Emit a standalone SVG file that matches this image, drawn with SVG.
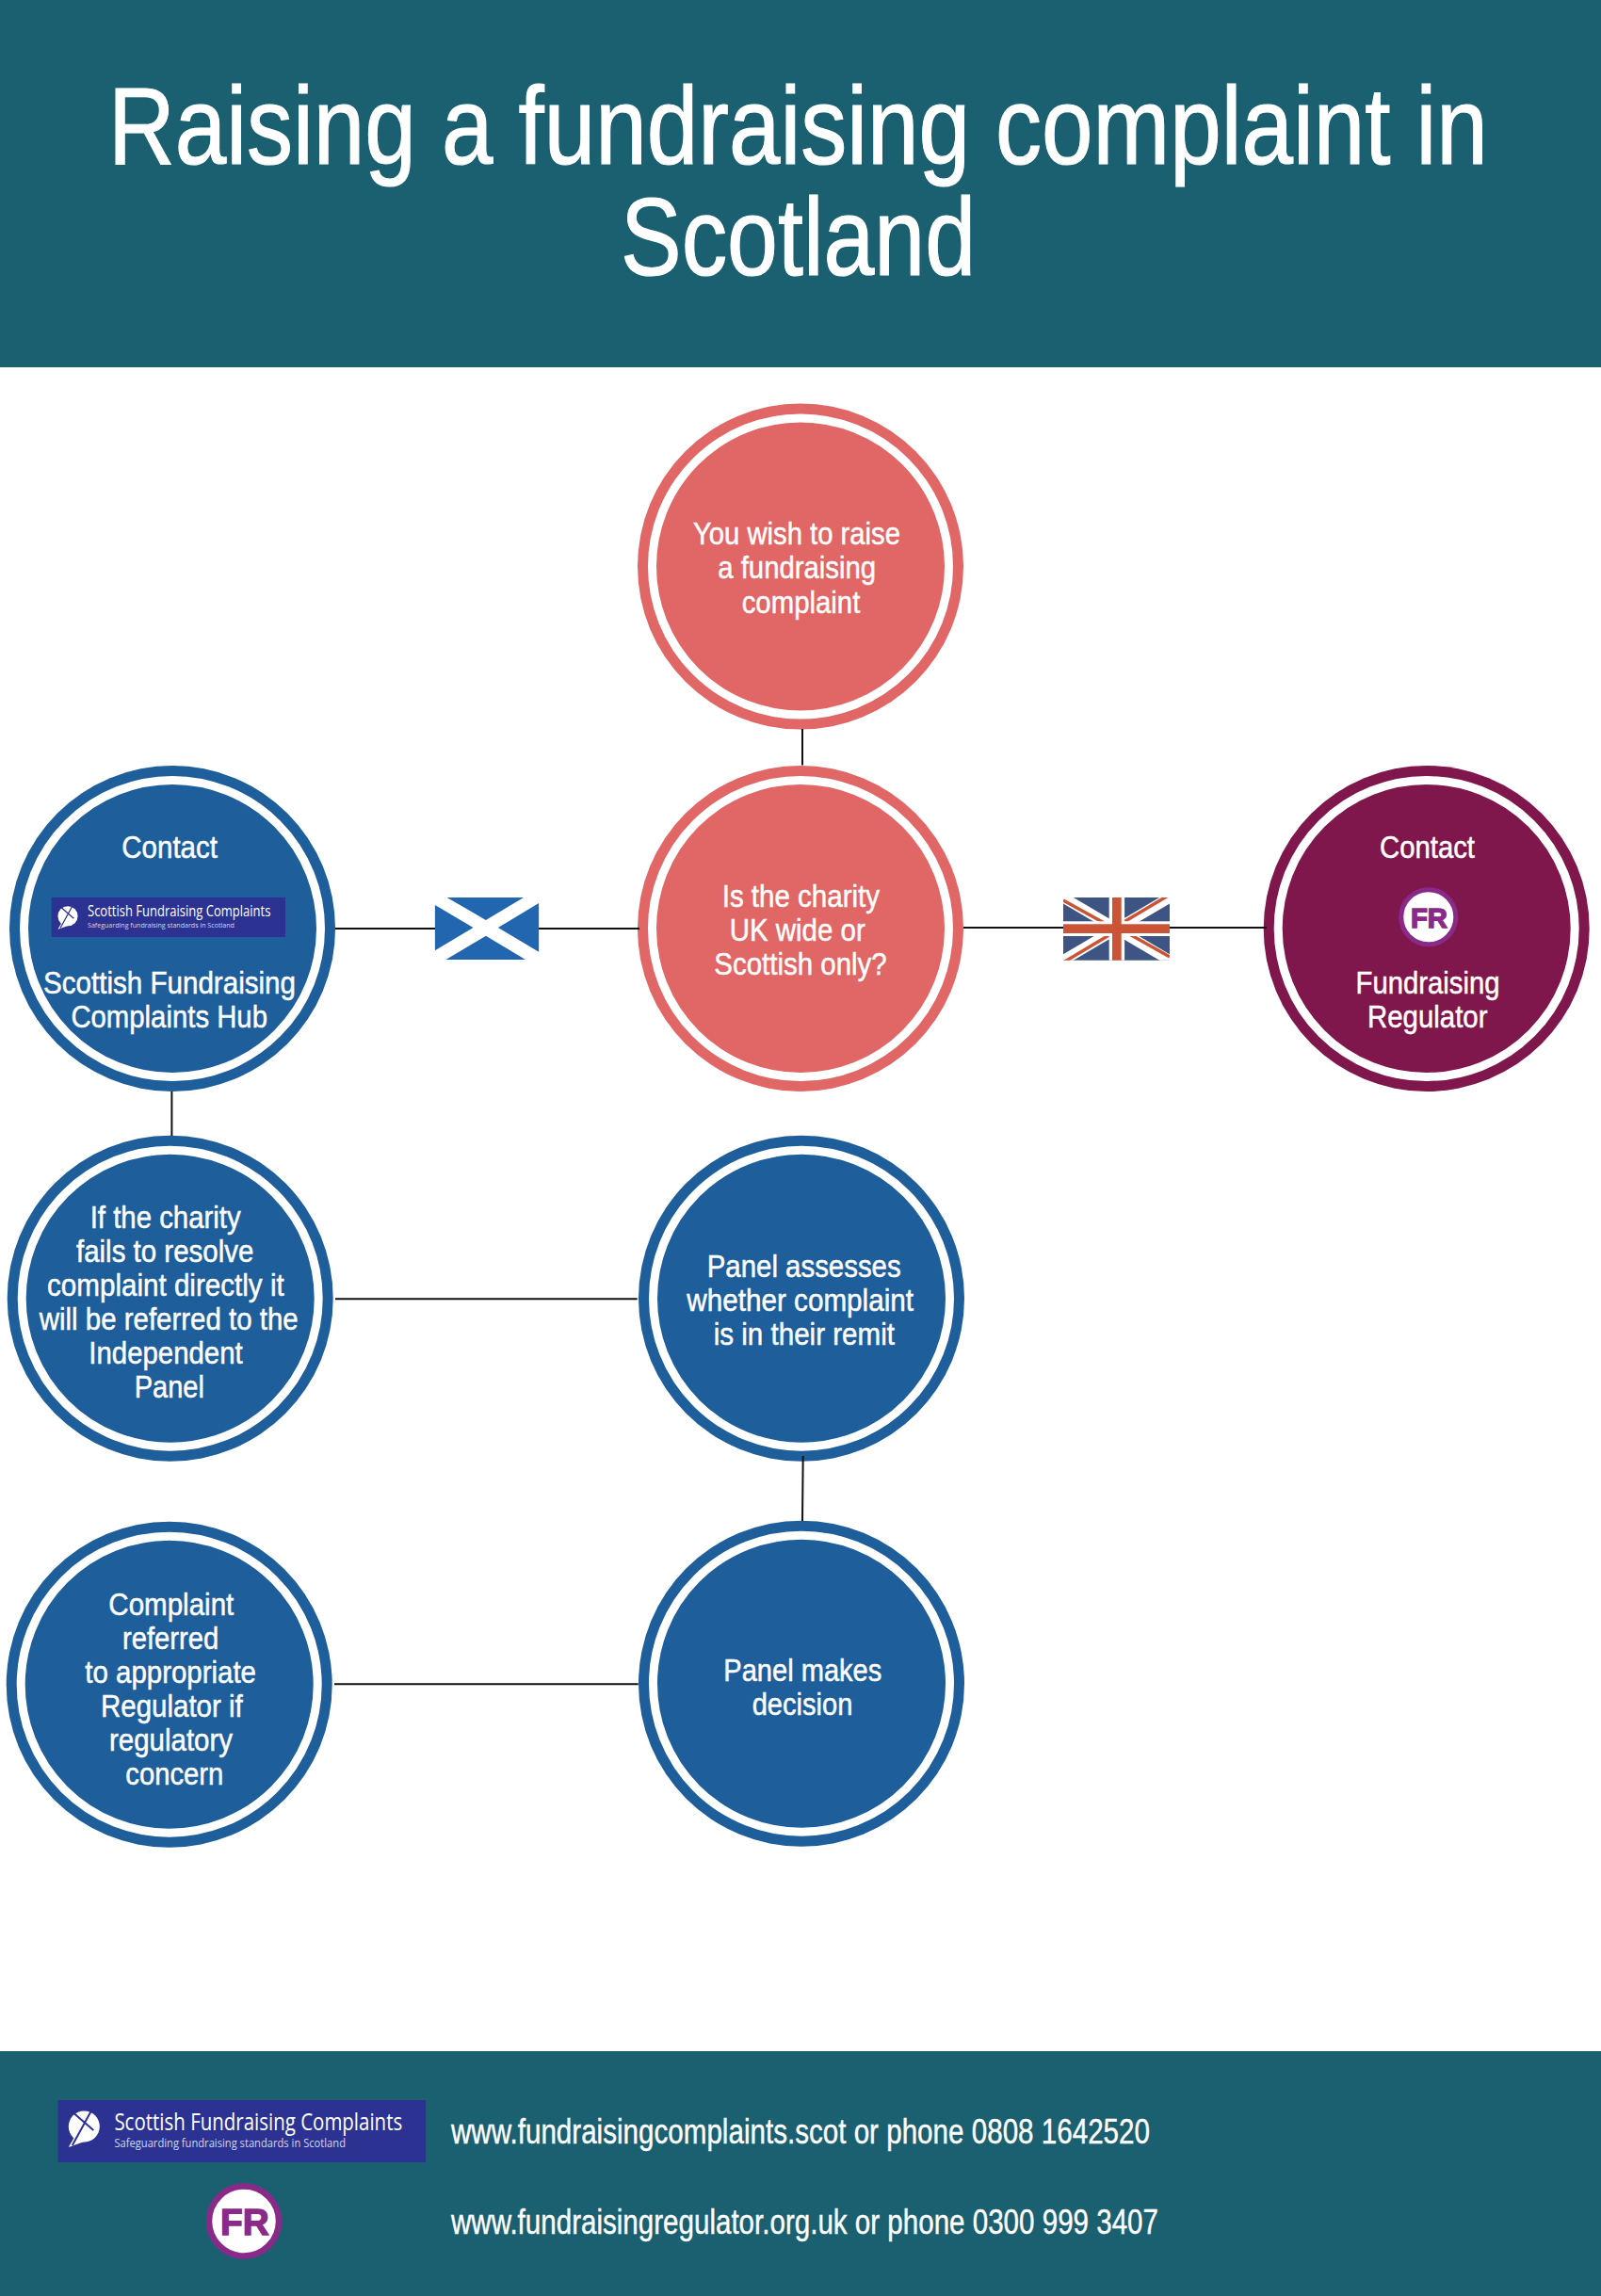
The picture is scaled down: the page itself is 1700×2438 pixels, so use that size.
<svg xmlns="http://www.w3.org/2000/svg" width="1700" height="2438" viewBox="0 0 1700 2438">
<style>
text{font-family:"Liberation Sans",Arial,sans-serif;fill:#fff;font-size:34px;stroke:#fff;stroke-width:.5}
.title{font-size:116px;stroke-width:1.2}
.foot{font-size:36px;stroke-width:.4}
.ln{stroke:#111;stroke-width:2;fill:none}
.ring{fill:none;stroke:#fff;stroke-width:9}
.coral{fill:#e16666}.blue{fill:#1d5e9b}.maroon{fill:#80174c}
.band{fill:#1b6070}
.logo{fill:#2b3291}
.logotxt{font-family:"Open Sans",sans-serif;stroke:none}
.frtxt{font-family:"Liberation Sans",sans-serif;font-weight:bold;fill:#8a2a88;stroke:#8a2a88;stroke-width:1.4}
.fr{fill:#fff;stroke:#8a2a88}
</style>
<defs>
<g id="bubble">
<circle r="16.5" fill="#fff"/>
<path d="M-9 9L-16.5 22L6 14Z" fill="#fff"/>
<path d="M-12.5 20L7 -15.5M-12 -15L10 4" stroke="#2b3291" stroke-width="2" fill="none"/>
</g>
<clipPath id="ukclip"><rect x="1129" y="953" width="113" height="66.7"/></clipPath>
</defs>
<rect width="1700" height="2438" fill="#fff"/>
<g id="header">
<rect class="band" width="1700" height="390"/>
<text class="title" transform="translate(115 174) scale(.838 1)" textLength="1748" lengthAdjust="spacingAndGlyphs">Raising a fundraising complaint in</text>
<text class="title" transform="translate(659 292) scale(.838 1)" textLength="450" lengthAdjust="spacingAndGlyphs">Scotland</text>
</g>
<g id="node-raise">
<circle class="coral" cx="850" cy="601.5" r="173"/><circle class="ring" cx="850" cy="601.5" r="157.5"/>
<text x="736" y="578.3" textLength="220" lengthAdjust="spacingAndGlyphs">You wish to raise</text>
<text x="762.3" y="614.3" textLength="167.7" lengthAdjust="spacingAndGlyphs">a fundraising</text>
<text x="787.7" y="650.5" textLength="125.6" lengthAdjust="spacingAndGlyphs">complaint</text>
</g>
<g id="node-question">
<circle class="coral" cx="850" cy="986" r="173"/><circle class="ring" cx="850" cy="986" r="157.5"/>
<text x="766.7" y="963.3" textLength="167.3" lengthAdjust="spacingAndGlyphs">Is the charity</text>
<text x="774.7" y="999.3" textLength="144" lengthAdjust="spacingAndGlyphs">UK wide or</text>
<text x="758.3" y="1035.3" textLength="183.4" lengthAdjust="spacingAndGlyphs">Scottish only?</text>
</g>
<g id="node-hub">
<circle class="blue" cx="183" cy="986" r="173"/><circle class="ring" cx="183" cy="986" r="157.5"/>
<text x="129.3" y="911" textLength="101.7" lengthAdjust="spacingAndGlyphs">Contact</text>
<rect class="logo" x="54.7" y="953" width="248.3" height="42"/>
<use href="#bubble" transform="translate(72 972.7) scale(.64)"/>
<text class="logotxt" x="93" y="973.3" style="font-size:16px" textLength="194.4" lengthAdjust="spacingAndGlyphs">Scottish Fundraising Complaints</text>
<text class="logotxt" x="93" y="985" style="font-size:8px;fill:#d5d6ea" textLength="155.8" lengthAdjust="spacingAndGlyphs">Safeguarding fundraising standards in Scotland</text>
<text x="46" y="1055" textLength="268" lengthAdjust="spacingAndGlyphs">Scottish Fundraising</text>
<text x="75.4" y="1091" textLength="208.6" lengthAdjust="spacingAndGlyphs">Complaints Hub</text>
</g>
<g id="node-regulator">
<circle class="maroon" cx="1514.7" cy="986" r="173"/><circle class="ring" cx="1514.7" cy="986" r="157.5"/>
<text x="1465" y="911" textLength="101" lengthAdjust="spacingAndGlyphs">Contact</text>
<circle class="fr" cx="1516.8" cy="973.8" r="29" stroke-width="5"/>
<text class="frtxt" x="1498" y="985.3" style="font-size:29px" textLength="39" lengthAdjust="spacingAndGlyphs">FR</text>
<text x="1439.5" y="1055" textLength="153" lengthAdjust="spacingAndGlyphs">Fundraising</text>
<text x="1452" y="1091" textLength="127.5" lengthAdjust="spacingAndGlyphs">Regulator</text>
</g>
<g id="node-fails">
<circle class="blue" cx="180.7" cy="1378.7" r="173"/><circle class="ring" cx="180.7" cy="1378.7" r="157.5"/>
<text x="95.7" y="1304.3" textLength="160" lengthAdjust="spacingAndGlyphs">If the charity</text>
<text x="81" y="1340.3" textLength="188.3" lengthAdjust="spacingAndGlyphs">fails to resolve</text>
<text x="50" y="1376.3" textLength="251.7" lengthAdjust="spacingAndGlyphs">complaint directly it</text>
<text x="41.7" y="1412.3" textLength="275" lengthAdjust="spacingAndGlyphs">will be referred to the</text>
<text x="94.3" y="1448.2" textLength="163.4" lengthAdjust="spacingAndGlyphs">Independent</text>
<text x="142.7" y="1484.2" textLength="74.3" lengthAdjust="spacingAndGlyphs">Panel</text>
</g>
<g id="node-assess">
<circle class="blue" cx="851" cy="1378.7" r="173"/><circle class="ring" cx="851" cy="1378.7" r="157.5"/>
<text x="750.7" y="1356" textLength="206" lengthAdjust="spacingAndGlyphs">Panel assesses</text>
<text x="729.3" y="1392" textLength="240.7" lengthAdjust="spacingAndGlyphs">whether complaint</text>
<text x="757.7" y="1428" textLength="192.3" lengthAdjust="spacingAndGlyphs">is in their remit</text>
</g>
<g id="node-refer">
<circle class="blue" cx="179.7" cy="1788.7" r="173"/><circle class="ring" cx="179.7" cy="1788.7" r="157.5"/>
<text x="115.3" y="1715" textLength="133" lengthAdjust="spacingAndGlyphs">Complaint</text>
<text x="130" y="1751" textLength="102.3" lengthAdjust="spacingAndGlyphs">referred</text>
<text x="90.3" y="1787" textLength="181.7" lengthAdjust="spacingAndGlyphs">to appropriate</text>
<text x="107" y="1823" textLength="150.7" lengthAdjust="spacingAndGlyphs">Regulator if</text>
<text x="116" y="1859" textLength="131" lengthAdjust="spacingAndGlyphs">regulatory</text>
<text x="133.3" y="1895" textLength="104" lengthAdjust="spacingAndGlyphs">concern</text>
</g>
<g id="node-decision">
<circle class="blue" cx="851" cy="1787.7" r="173"/><circle class="ring" cx="851" cy="1787.7" r="157.5"/>
<text x="768.3" y="1785" textLength="168" lengthAdjust="spacingAndGlyphs">Panel makes</text>
<text x="798.7" y="1821" textLength="106.6" lengthAdjust="spacingAndGlyphs">decision</text>
</g>
<g id="connectors">
<path class="ln" d="M852 774V812.5"/>
<path class="ln" d="M356 986H679"/>
<path class="ln" d="M1023 985H1345"/>
<path class="ln" d="M182.4 1159V1206"/>
<path class="ln" d="M356 1379.3H676.7"/>
<path class="ln" d="M852.7 1546L852 1615"/>
<path class="ln" d="M355 1788.3H677.7"/>
</g>
<g id="flag-scotland">
<rect x="462" y="953" width="110" height="66" fill="#fff"/>
<g fill="#2266b0">
<path d="M461.9 961V1009.3L502.5 985Z"/><path d="M572.1 959V1010.7L528.9 985Z"/>
<path d="M474.6 953H556L515.9 977Z"/><path d="M473.4 1019H558L515.9 993.7Z"/>
</g>
</g>
<g id="flag-uk">
<rect x="1129" y="953" width="113" height="66.7" fill="#3e5584"/>
<g clip-path="url(#ukclip)">
<path d="M1129 953L1242 1019.7M1242 953L1129 1019.7" stroke="#fff" stroke-width="11" fill="none"/>
<path d="M1129 956L1185 987M1242 950L1190 981M1129 1022L1181 991M1242 1016L1187 985" stroke="#cb5436" stroke-width="3.5" fill="none"/>
</g>
<rect x="1177.7" y="953" width="16.4" height="66.7" fill="#fff"/>
<rect x="1129" y="978.3" width="113" height="15.7" fill="#fff"/>
<rect x="1181" y="953" width="9.7" height="66.7" fill="#cb5436"/>
<rect x="1129" y="981.3" width="113" height="9.7" fill="#cb5436"/>
</g>
<g id="footer">
<rect class="band" y="2178" width="1700" height="260"/>
<rect class="logo" x="61.6" y="2230" width="390.6" height="66"/>
<use href="#bubble" transform="translate(89.3 2258)"/>
<text class="logotxt" x="121.4" y="2262.3" style="font-size:25px" textLength="305.8" lengthAdjust="spacingAndGlyphs">Scottish Fundraising Complaints</text>
<text class="logotxt" x="121.4" y="2280" style="font-size:12.5px;fill:#d5d6ea" textLength="245.6" lengthAdjust="spacingAndGlyphs">Safeguarding fundraising standards in Scotland</text>
<circle class="fr" cx="259" cy="2358.5" r="37" stroke-width="6.5"/>
<text class="frtxt" x="234" y="2373.3" style="font-size:38.5px" textLength="51.7" lengthAdjust="spacingAndGlyphs">FR</text>
<text class="foot" x="479" y="2276" textLength="742" lengthAdjust="spacingAndGlyphs">www.fundraisingcomplaints.scot or phone 0808 1642520</text>
<text class="foot" x="479" y="2372" textLength="751" lengthAdjust="spacingAndGlyphs">www.fundraisingregulator.org.uk or phone 0300 999 3407</text>
</g>
</svg>
